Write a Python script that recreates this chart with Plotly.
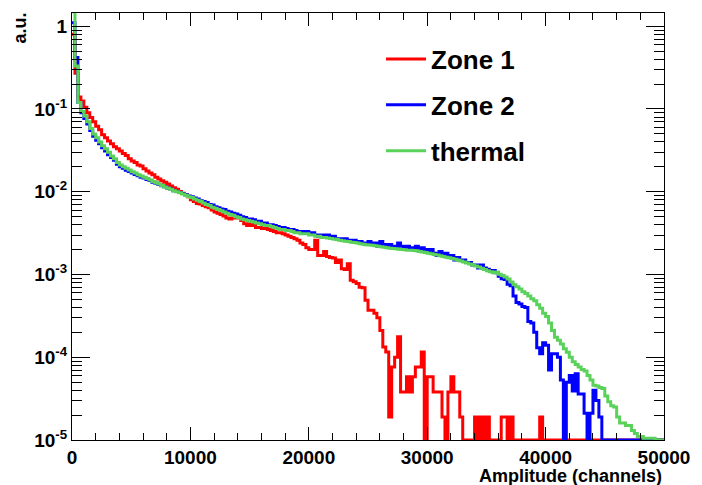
import plotly.graph_objects as go

bin_width = 250
x_min, x_max = 0, 50000

zone1 = [
    0.8, 0.27, 0.14, 0.125, 0.105, 0.09, 0.079, 0.07, 0.062, 0.056,
    0.049, 0.045, 0.041, 0.038, 0.035, 0.033, 0.031, 0.029, 0.0275, 0.025,
    0.0235, 0.0225, 0.021, 0.0205, 0.019, 0.0178, 0.0168, 0.016, 0.015, 0.0143,
    0.0136, 0.013, 0.0124, 0.0117, 0.0112, 0.0107, 0.0101, 0.0096, 0.0092, 0.0087,
    0.0080, 0.0076, 0.0072, 0.0071, 0.0068, 0.0066, 0.0064, 0.0060, 0.0057, 0.0055,
    0.0053, 0.0051, 0.0048, 0.0047, 0.0048, 0.0049, 0.0048, 0.0045, 0.0041, 0.0039,
    0.0041, 0.0039, 0.0037, 0.0037, 0.0036, 0.0036, 0.0035, 0.0034, 0.0033, 0.0032,
    0.0032, 0.0031, 0.0030, 0.0029, 0.0028, 0.0027, 0.0026, 0.0024, 0.0023, 0.0021,
    0.0020, 0.0020, 0.0026, 0.0017, 0.0017, 0.0019, 0.00165, 0.0016, 0.00158, 0.0014,
    0.0015, 0.00117, 0.00115, 0.00135, 0.00085, 0.00082, 0.00078, 0.0007, 0.00069, 0.00049,
    0.00037, 0.00037, 0.00034, 0.0003, 0.00021, 0.000133, 0.000116, 0.000019, 0.000076, 0.0001,
    0.000177, 0.000038, 0.000038, 0.000058, 0.000038, 0.000058, 0.000076, 0.000076, 0.000116, 0,
    0.000058, 0.000058, 0.000038, 0.000038, 0.000038, 0.000019, 0, 0.000038, 0.000058, 0.000038,
    0.000038, 0.000019, 0, 0, 0, 0, 0.000019, 0, 0.000019, 0,
    0.000019, 0, 0, 0, 0, 0.000019, 0.000019, 0, 0.000019, 0,
    0, 0, 0, 0, 0, 0, 0, 0, 0.000019, 0,
    0, 0, 0, 0, 0, 0, 0, 0, 0, 0,
    0, 0, 0, 0, 0, 0, 0, 0, 0, 0,
    0, 0, 0, 0, 0, 0, 0, 0, 0, 0,
    0, 0, 0, 0, 0, 0, 0, 0, 0, 0,
]

zone2 = [
    1.1, 0.42, 0.12, 0.090, 0.077, 0.066, 0.055, 0.047, 0.042, 0.038,
    0.034, 0.031, 0.028, 0.026, 0.024, 0.0215, 0.020, 0.0192, 0.0182, 0.0176,
    0.0168, 0.0162, 0.0156, 0.0150, 0.0147, 0.0141, 0.0137, 0.0130, 0.0127, 0.0122,
    0.0118, 0.0115, 0.0110, 0.0108, 0.0103, 0.0101, 0.0098, 0.0095, 0.0092, 0.0089,
    0.0087, 0.0084, 0.0082, 0.0078, 0.0076, 0.0074, 0.0070, 0.0069, 0.0066, 0.0064,
    0.0062, 0.0061, 0.0058, 0.0057, 0.0055, 0.0054, 0.0052, 0.0050, 0.0049, 0.0047,
    0.0047, 0.0046, 0.0044, 0.0044, 0.0042, 0.0042, 0.0040, 0.0040, 0.0039, 0.0038,
    0.0037, 0.0037, 0.0036, 0.0035, 0.0035, 0.0034, 0.0033, 0.0033, 0.0032, 0.0033,
    0.0031, 0.0032, 0.0030, 0.0029, 0.0030, 0.0029, 0.0030, 0.0028, 0.0029, 0.0027,
    0.0027, 0.0026, 0.0027, 0.0026, 0.0025, 0.0026, 0.0025, 0.0025, 0.0024, 0.0023,
    0.0025, 0.0024, 0.0024, 0.0022, 0.0025, 0.0023, 0.0022, 0.0023, 0.0022, 0.0021,
    0.0024, 0.0022, 0.0021, 0.0022, 0.0020, 0.0021, 0.0022, 0.0019, 0.0021, 0.0020,
    0.0019, 0.0020, 0.0018, 0.0017, 0.0019, 0.0017, 0.0018, 0.0016, 0.0017, 0.0015,
    0.0016, 0.0015, 0.0015, 0.0014, 0.0014, 0.0013, 0.0013, 0.0012, 0.0013, 0.0012,
    0.00116, 0.00110, 0.00112, 0.00105, 0.00095, 0.00089, 0.00087, 0.00076, 0.00073, 0.00055,
    0.00046, 0.00044, 0.00041, 0.00040, 0.00027, 0.00026, 0.00020, 0.00013, 0.00011, 0.00015,
    0.00014, 0.00007, 0.00011, 0.00011, 0.00010, 0.000053, 0, 0.00005, 0.00006, 0.000039,
    0.000063, 0.000036, 0.000036, 0.000021, 0, 0.000021, 0.00004, 0.00003, 0.000019, 0,
    0, 0, 0, 0, 0, 0, 0, 0, 0, 0,
    0, 0, 0, 0, 0, 0, 0, 0, 0, 0,
]

thermal = [
    1.5, 0.33, 0.12, 0.093, 0.082, 0.070, 0.058, 0.050, 0.045, 0.040,
    0.036, 0.033, 0.030, 0.027, 0.025, 0.0225, 0.021, 0.020, 0.0192, 0.0183,
    0.0175, 0.0168, 0.0161, 0.0155, 0.0150, 0.0145, 0.0139, 0.0133, 0.0128, 0.0124,
    0.0119, 0.0114, 0.0110, 0.0107, 0.0103, 0.0100, 0.0097, 0.0094, 0.0091, 0.0087,
    0.0085, 0.0082, 0.0079, 0.0076, 0.0073, 0.0070, 0.0068, 0.0065, 0.0063, 0.0061,
    0.0059, 0.0057, 0.0055, 0.0053, 0.0052, 0.0050, 0.0049, 0.0047, 0.0046, 0.0045,
    0.0044, 0.0043, 0.0042, 0.0041, 0.0040, 0.0039, 0.0039, 0.0038, 0.0037, 0.0036,
    0.0035, 0.0035, 0.0034, 0.0034, 0.0033, 0.0032, 0.0032, 0.0031, 0.0031, 0.0031,
    0.0030, 0.0030, 0.0029, 0.0029, 0.0028, 0.0028, 0.00277, 0.00273, 0.00268, 0.00265,
    0.00260, 0.00256, 0.00252, 0.00250, 0.00246, 0.00243, 0.00240, 0.00236, 0.00232, 0.00229,
    0.00227, 0.00225, 0.00223, 0.00220, 0.00217, 0.00214, 0.00211, 0.00208, 0.00206, 0.00204,
    0.00202, 0.00200, 0.00199, 0.00197, 0.00196, 0.00195, 0.00193, 0.00190, 0.00187, 0.00184,
    0.00181, 0.00178, 0.00175, 0.00172, 0.00168, 0.00165, 0.00162, 0.00159, 0.00156, 0.00153,
    0.00150, 0.00146, 0.00142, 0.00138, 0.00134, 0.00130, 0.00127, 0.00123, 0.00119, 0.00115,
    0.00111, 0.00108, 0.00105, 0.00107, 0.00101, 0.00097, 0.00093, 0.00088, 0.00081, 0.00075,
    0.00071, 0.00067, 0.00062, 0.00059, 0.00055, 0.00051, 0.00048, 0.00043, 0.00039, 0.00034,
    0.00031, 0.00026, 0.00021, 0.000175, 0.000160, 0.000145, 0.000127, 0.000115, 0.000100, 0.000088,
    0.000082, 0.000076, 0.000071, 0.000068, 0.000060, 0.000053, 0.000046, 0.000045, 0.000043, 0.000042,
    0.000034, 0.000029, 0.000026, 0.000025, 0.000019, 0.000016, 0.000016, 0.000015, 0.000015, 0.000013,
    0.000012, 0.000011, 0.000011, 0.0000105, 0.0000105, 0.0000105, 0.0000105, 0, 0, 0,
]

series = [
    ("Zone 1", zone1, "#ff0000"),
    ("Zone 2", zone2, "#0000ff"),
    ("thermal", thermal, "#5ad25a"),
]

y_floor = 1e-5
y_top_log = 0.16

edges = list(range(x_min, x_max + bin_width, bin_width))

FONT = "Liberation Sans"

fig = go.Figure()
for i, (name, vals, col) in enumerate(series):
    yv = [max(v, y_floor) for v in vals]
    yv = yv + [yv[-1]]
    fig.add_trace(go.Scatter(
        x=edges, y=yv, mode="lines", name=name,
        line=dict(color=col, width=3, shape="hv"),
        legendgroup=name,
    ))

major_y = [1e-5, 1e-4, 1e-3, 1e-2, 1e-1, 1]
major_y_text = ["10<sup>-5</sup>", "10<sup>-4</sup>", "10<sup>-3</sup>",
                "10<sup>-2</sup>", "10<sup>-1</sup>", "1"]
minor_y = [m * 10.0 ** e for e in range(-5, 0) for m in range(2, 10)]

major_x = [0, 10000, 20000, 30000, 40000, 50000]
minor_x = [v for v in range(0, 50001, 2000) if v % 10000 != 0]

fig.update_layout(
    width=702, height=485,
    margin=dict(l=72, r=32, t=12, b=45),
    paper_bgcolor="white", plot_bgcolor="white",
    font=dict(family=FONT, color="black", size=19, weight="bold"),
    showlegend=True,
    legend=dict(
        x=0.522, y=0.947, xanchor="left", yanchor="top",
        bgcolor="rgba(0,0,0,0)",
        font=dict(family=FONT, size=26, color="black", weight="bold"),
        tracegroupgap=9,
        itemwidth=40,
    ),
    xaxis=dict(
        range=[x_min, x_max],
        showline=True, linecolor="black", linewidth=1, mirror="ticks",
        showgrid=False, zeroline=False,
        ticks="inside", ticklen=13, tickcolor="black", tickwidth=1,
        tickmode="array", tickvals=major_x, ticktext=[str(v) for v in major_x],
        tickfont=dict(family=FONT, size=19, weight="bold"),
        minor=dict(ticks="inside", ticklen=7, tickcolor="black", tickwidth=1,
                   tickmode="array", tickvals=minor_x, showgrid=False),
    ),
    yaxis=dict(
        type="log", range=[-5, y_top_log],
        showline=True, linecolor="black", linewidth=1, mirror="ticks",
        showgrid=False, zeroline=False,
        ticks="inside", ticklen=18, tickcolor="black", tickwidth=1,
        tickmode="array", tickvals=major_y, ticktext=major_y_text,
        tickfont=dict(family=FONT, size=19, weight="bold"),
        minor=dict(ticks="inside", ticklen=10, tickcolor="black", tickwidth=1,
                   tickmode="array", tickvals=minor_y, showgrid=False),
    ),
    annotations=[
        dict(text="Amplitude (channels)", xref="paper", yref="paper",
             x=1.0, y=-0.085, xanchor="right", yanchor="middle",
             showarrow=False, font=dict(family=FONT, size=18, weight="bold")),
        dict(text="a.u.", xref="paper", yref="paper",
             x=-0.088, y=1.007, xanchor="center", yanchor="top", textangle=-90,
             showarrow=False, font=dict(family=FONT, size=18, weight="bold")),
    ],
)

fig.write_html("out.html")
